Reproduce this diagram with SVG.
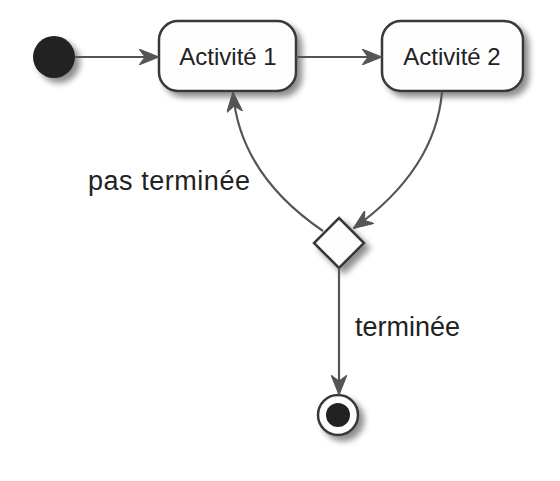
<svg xmlns="http://www.w3.org/2000/svg" width="560" height="481" viewBox="0 0 560 481">
<style>
.node{fill:#fefefe;stroke:#383838;stroke-width:2.5}
.lbl{font-family:"Liberation Sans",Arial,sans-serif;font-size:24px;fill:#222}
.elbl{font-family:"Liberation Sans",Arial,sans-serif;font-size:27px;fill:#222}
.edge{fill:none;stroke:#555;stroke-width:2.2}
</style>
<defs>
<filter id="sh" x="-30%" y="-30%" width="160%" height="160%">
<feGaussianBlur in="SourceAlpha" stdDeviation="3"/>
<feOffset dx="5" dy="5" result="b"/>
<feComponentTransfer><feFuncA type="linear" slope="0.45"/></feComponentTransfer>
<feMerge><feMergeNode/><feMergeNode in="SourceGraphic"/></feMerge>
</filter>
<marker id="ah" viewBox="0 0 20 16" refX="19" refY="8" markerWidth="20" markerHeight="16" markerUnits="userSpaceOnUse" orient="auto">
<path d="M0,0 L20,8 L0,16 L6,8 Z" fill="#555" stroke="#555" stroke-width="1"/>
</marker>
</defs>
<g id="start"><circle cx="54" cy="57" r="21" fill="#222" filter="url(#sh)"/></g>
<g id="act1"><rect class="node" x="159" y="21" width="137" height="70" rx="19" filter="url(#sh)"/><text class="lbl" x="228" y="65" text-anchor="middle">Activité 1</text></g>
<g id="act2"><rect class="node" x="382" y="21" width="141" height="70" rx="19" filter="url(#sh)"/><text class="lbl" x="452" y="65" text-anchor="middle">Activité 2</text></g>
<g id="decision"><polygon class="node" points="339,218 364,243 339,268 314,243" filter="url(#sh)"/></g>
<g id="end"><circle cx="338" cy="415" r="20" fill="#fefefe" stroke="#383838" stroke-width="2.5" filter="url(#sh)"/><circle cx="338" cy="415" r="12" fill="#222"/></g>
<g id="connectors">
<path class="edge" d="M75,57 L158,57" marker-end="url(#ah)"/>
<path class="edge" d="M296,57 L381,57" marker-end="url(#ah)"/>
<path class="edge" d="M442,92 C437,150 400,195 354,228" marker-end="url(#ah)"/>
<path class="edge" d="M323,231 C270,195 238,150 233,93" marker-end="url(#ah)"/>
<path class="edge" d="M339,268 L339,394" marker-end="url(#ah)"/>
<text class="elbl" x="88" y="190" textLength="162">pas terminée</text>
<text class="elbl" x="355" y="336">terminée</text>
</g>
</svg>
